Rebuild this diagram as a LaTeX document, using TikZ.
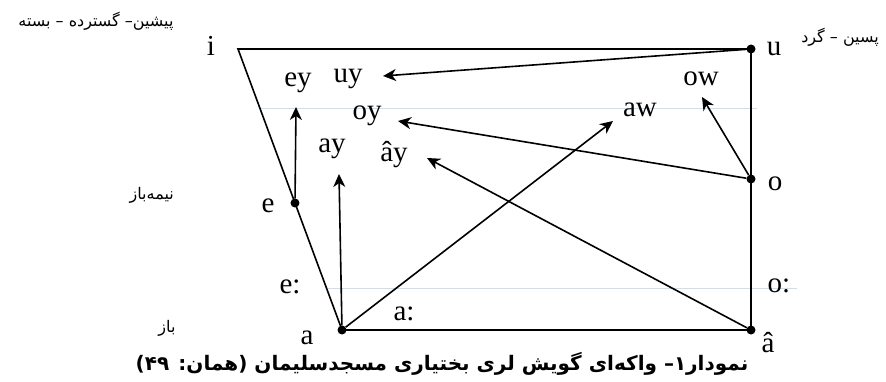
\documentclass[tikz,border=0pt]{standalone}
\usepackage{fontspec}
\setmainfont{Liberation Serif}
\newfontfamily\arabicfont[Script=Arabic]{DejaVu Sans}
\TeXXeTstate=1
\usetikzlibrary{arrows.meta,calc}
\definecolor{guide}{RGB}{205,222,242}
\begin{document}
\begin{tikzpicture}[x=1pt,y=-1pt,
  edge/.style={line width=1.6pt},
  arr/.style={line width=1.6pt,-{Stealth[length=13pt,width=12pt,inset=4pt]}},
  dot/.style={circle,fill,inner sep=0pt,minimum size=9pt},
  lab/.style={font=\fontsize{29}{29}\selectfont,inner sep=0pt,anchor=base},
  fa/.style={font=\arabicfont\fontsize{16}{16}\selectfont,inner sep=0pt,anchor=base},
  captext/.style={font=\arabicfont\bfseries\fontsize{20}{20}\selectfont,inner sep=0pt,anchor=base},
  guideline/.style={draw=guide,line width=0.8pt}]
\useasboundingbox (0,0) rectangle (886,382);
% guide lines
\coordinate (g1s) at (260,108); \coordinate (g1e) at (757,108);
\coordinate (g2s) at (326,288); \coordinate (g2e) at (797,288);
\draw[guideline] (g1s) -- (g1e);
\draw[guideline] (g2s) -- (g2e);
% corners and dots
\coordinate (i) at (238,49);
\node[dot] (u) at (751,49) {};
\node[dot] (o) at (751,179) {};
\node[dot] (ah) at (751,330) {};
\node[dot] (a) at (342,330) {};
\node[dot] (e) at ($(i)!0.548!(a)$) {};
\draw[edge] (i) -- (u.center) -- (ah.center) -- (a.center) -- cycle;
% arrow tips
\coordinate (tuy) at (383,76);
\coordinate (toy) at (398,121);
\coordinate (tay2) at (427,158);
\coordinate (taw) at (613,121);
\coordinate (tow) at (702,97);
\coordinate (tay) at (339,174);
\coordinate (tey) at (296,107);
\draw[arr] (u) -- (tuy);
\draw[arr] (o) -- (toy);
\draw[arr] (ah) -- (tay2);
\draw[arr] (a) -- (taw);
\draw[arr] (o) -- (tow);
\draw[arr] (a) -- (tay);
\draw[arr] (e) -- (tey);
% vowel labels
\node[lab] (li) at (211,56) {i};
\node[lab] (lu) at (774,56) {u};
\node[lab] (le) at (268,213) {e};
\node[lab] (lel) at (290,293) {e:};
\node[lab] (lo) at (775,191) {o};
\node[lab] (lol) at (779,292) {o:};
\node[lab] (la) at (307,344) {a};
\node[lab] (lah) at (768,352) {â};
\node[lab] (lal) at (404,320) {a:};
\node[lab] (ley) at (298,87) {ey};
\node[lab] (luy) at (348,83) {uy};
\node[lab] (loy) at (367,120) {oy};
\node[lab] (lay) at (332,153) {ay};
\node[lab] (lahy) at (394,162) {ây};
\node[lab] (law) at (640,117) {aw};
\node[lab] (low) at (701,86) {ow};
% Persian labels
\node[fa] (front) at (96,27) {\beginR پیشین– گسترده – بسته\endR};
\node[fa] (back) at (840,43) {\beginR پسین – گرد\endR};
\node[fa,anchor=base east] (half) at (174,200) {\beginR نیمه‌باز\endR};
\node[fa] (open) at (167,332) {\beginR باز\endR};
\node[captext] (caption) at (442,370) {\beginR نمودار۱– واکه‌ای گویش لری بختیاری مسجدسلیمان (همان: \beginL۴۹\endL)\endR};
\end{tikzpicture}
\end{document}
